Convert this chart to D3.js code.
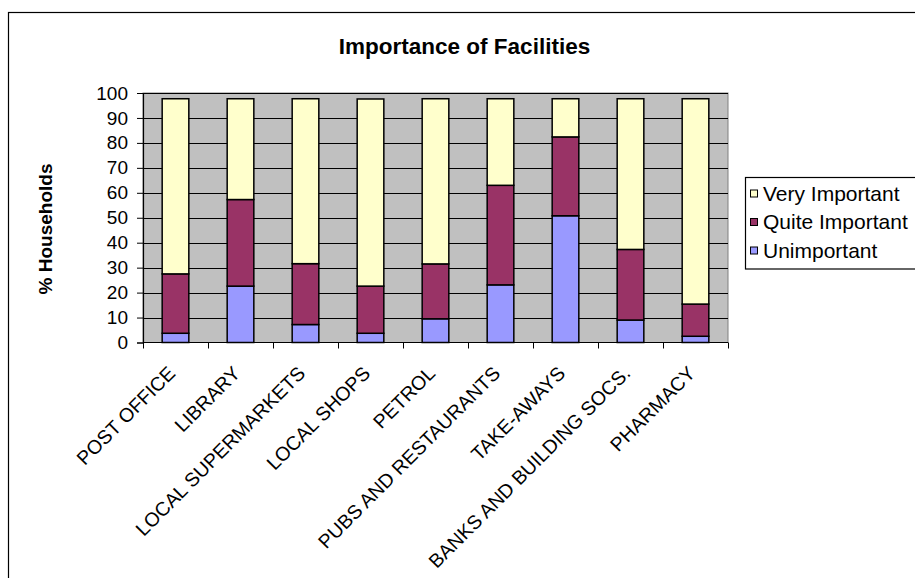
<!DOCTYPE html>
<html><head><meta charset="utf-8">
<script src="https://cdn.jsdelivr.net/npm/d3@7"></script>
<style>html,body{margin:0;padding:0;background:#fff;overflow:hidden}</style>
</head><body>
<svg id="c" width="915" height="578"></svg>
<script>
const categories = ["POST OFFICE","LIBRARY","LOCAL SUPERMARKETS","LOCAL SHOPS","PETROL","PUBS AND RESTAURANTS","TAKE-AWAYS","BANKS AND BUILDING SOCS.","PHARMACY"];
const unimportant = [3.7, 22.6, 7.2, 3.7, 9.5, 23.1, 50.8, 9.0, 2.5];
const quiteImportant = [23.8, 34.7, 24.4, 18.9, 22.0, 39.9, 31.6, 28.3, 12.9];
const veryImportant = [70.2, 40.4, 66.1, 75.0, 66.2, 34.7, 15.3, 60.4, 82.3];
const seriesNames = ["Unimportant","Quite Important","Very Important"];
const seriesColors = ["#9999FF","#993366","#FFFFCC"];
const yTicks = [0,10,20,30,40,50,60,70,80,90,100];
const title = "Importance of Facilities";
const yTitle = "% Households";

const svg = d3.select("#c");
const font = "Arial, 'Liberation Sans', Helvetica, sans-serif";

// chart border
svg.append("rect").attr("x",8.5).attr("y",12.5).attr("width",1000).attr("height",700)
  .attr("fill","#fff").attr("stroke","#000").attr("stroke-width",1.2);

const L=143, R=728, T=93, B=342.5;
const x = d3.scaleBand().domain(categories).range([L,R]).paddingInner(0.59).paddingOuter(0.295);
const y = d3.scaleLinear().domain([0,100]).range([B,T]);

// plot area
svg.append("rect").attr("x",L).attr("y",T).attr("width",R-L).attr("height",B-T)
  .attr("fill","#C0C0C0").attr("stroke","#808080").attr("stroke-width",1);

// gridlines
svg.append("g").selectAll("line").data(yTicks.slice(1)).join("line")
  .attr("x1",L).attr("x2",R).attr("y1",d=>Math.round(y(d))+0.5).attr("y2",d=>Math.round(y(d))+0.5)
  .attr("stroke","#000").attr("stroke-width",1);

// stacked data
const rows = categories.map((c,i)=>({cat:c, "Unimportant":unimportant[i], "Quite Important":quiteImportant[i], "Very Important":veryImportant[i]}));
const stack = d3.stack().keys(seriesNames)(rows);
svg.append("g").selectAll("g").data(stack).join("g")
  .attr("fill",(d,i)=>seriesColors[i])
  .selectAll("rect").data(d=>d).join("rect")
  .attr("x",d=>x(d.data.cat)).attr("width",x.bandwidth())
  .attr("y",d=>y(d[1])).attr("height",d=>y(d[0])-y(d[1]))
  .attr("stroke","#000").attr("stroke-width",1.5);

// y axis
const ya = svg.append("g").attr("transform",`translate(${L},0)`)
  .call(d3.axisLeft(y).tickValues(yTicks).tickSize(6).tickPadding(9).tickFormat(d3.format("d")));
ya.select(".domain").attr("stroke","#000").attr("stroke-width",1.2);
ya.selectAll(".tick line").attr("stroke","#000");
ya.selectAll("text").attr("font-family",font).attr("font-size","19px").attr("fill","#000");

// x axis
const xa = svg.append("g").attr("transform",`translate(0,${B})`)
  .call(d3.axisBottom(x).tickSize(0).tickPadding(0));
xa.select(".domain").remove();
xa.selectAll(".tick text")
  .attr("font-family",font).attr("font-size","19.5px").attr("fill","#000")
  .attr("text-anchor","end").attr("dy",0).attr("y",0)
  .attr("transform","translate(1,32) rotate(-45)");
const step = x.step();
const bounds = categories.map(c=>x(c)+x.bandwidth()/2-step/2).concat([R]);
svg.append("line").attr("x1",L).attr("x2",R).attr("y1",B).attr("y2",B).attr("stroke","#000").attr("stroke-width",1.2);
svg.append("g").selectAll("line").data(bounds).join("line")
  .attr("x1",d=>Math.round(d)+0.5).attr("x2",d=>Math.round(d)+0.5).attr("y1",B).attr("y2",B+6)
  .attr("stroke","#000");

// title
svg.append("text").attr("x",464.5).attr("y",53.5).attr("text-anchor","middle")
  .attr("font-family",font).attr("font-weight","bold").attr("font-size","22.5px").text(title);

// y title
svg.append("text").attr("transform","translate(52,229) rotate(-90)").attr("text-anchor","middle")
  .attr("font-family",font).attr("font-weight","bold").attr("font-size","19px").text(yTitle);

// legend
const lg = svg.append("g");
lg.append("rect").attr("x",745.5).attr("y",177.5).attr("width",300).attr("height",91.5)
  .attr("fill","#fff").attr("stroke","#000").attr("stroke-width",1.2);
const legOrder = [2,1,0];
const ly = d3.scalePoint().domain(legOrder.map(i=>seriesNames[i])).range([193.5,250.5]);
legOrder.forEach(i=>{
  const n = seriesNames[i];
  lg.append("rect").attr("x",750.5).attr("y",ly(n)-3.5).attr("width",7).attr("height",7)
    .attr("fill",seriesColors[i]).attr("stroke","#000").attr("stroke-width",1);
  lg.append("text").attr("x",763).attr("y",ly(n)).attr("dy","0.35em")
    .attr("font-family",font).attr("font-size","21px").text(n);
});
</script>
</body></html>
